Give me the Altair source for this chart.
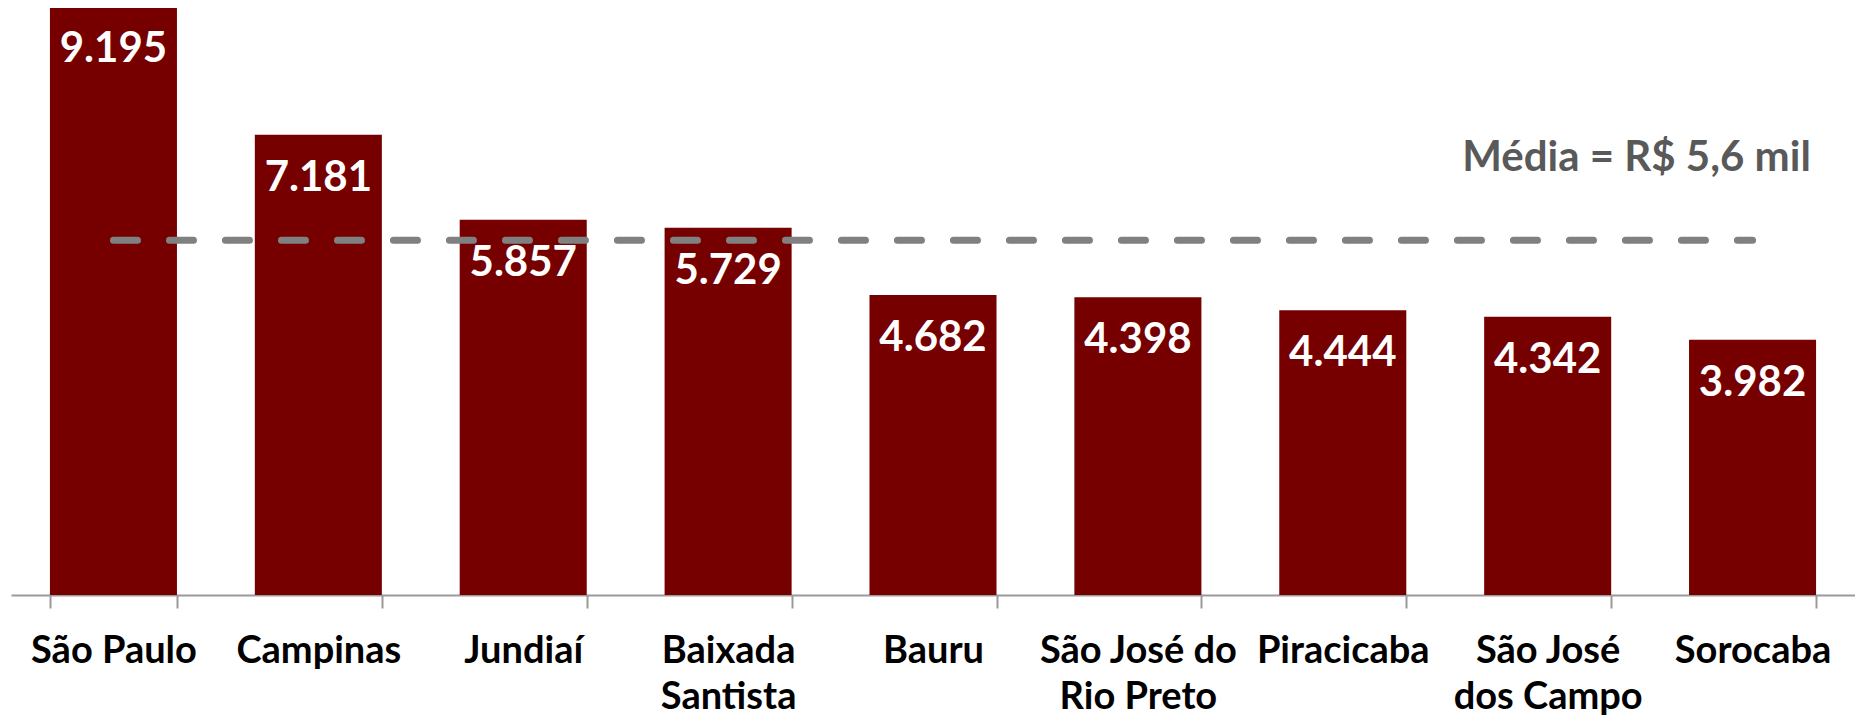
import altair as alt
import pandas as pd

# ---- data ----
categories = [
    "São Paulo", "Campinas", "Jundiaí", "Baixada\nSantista", "Bauru",
    "São José do\nRio Preto", "Piracicaba", "São José\ndos Campo", "Sorocaba",
]
# bar heights as drawn in the picture
bar_values = [9.195, 7.181, 5.857, 5.729, 4.682, 4.647, 4.444, 4.342, 3.982]
# printed value labels
value_labels = ["9.195", "7.181", "5.857", "5.729", "4.682", "4.398", "4.444", "4.342", "3.982"]
labeled_values = [9.195, 7.181, 5.857, 5.729, 4.682, 4.398, 4.444, 4.342, 3.982]
mean_value = sum(labeled_values) / len(labeled_values)
mean_text = "Média = R$ 5,6 mil"

FONT = "Lato"
BAR_COLOR = "#760000"

df = pd.DataFrame({"region": categories, "value": bar_values, "label": value_labels})
rule_df = pd.DataFrame({"region": [categories[0]], "region_end": [categories[-1]], "mean": [mean_value]})
note_df = pd.DataFrame({"region": [categories[-1]], "mean": [mean_value], "text": [mean_text]})

x_scale = alt.Scale(domain=categories, paddingInner=0.38, paddingOuter=0.19)
y_scale = alt.Scale(domain=[0, 9.16], nice=False, zero=True)

x_main = alt.X(
    "region:N", sort=categories, scale=x_scale,
    axis=alt.Axis(
        title=None, labelAngle=0, labelExpr="split(datum.label, '\\n')",
        labelFont=FONT, labelFontSize=38, labelFontWeight="bold", labelColor="black",
        labelBaseline="alphabetic", labelPadding=54, labelLineHeight=46,
        labelLimit=0, labelOverlap=False, tickBand="extent", tickSize=13,
        tickColor="#9a9a9a", tickWidth=2, domainColor="#9a9a9a", domainWidth=2,
        grid=False,
    ),
)
x_plain = alt.X("region:N", sort=categories, scale=x_scale)
y_enc = alt.Y("value:Q", scale=y_scale, axis=None)

bars = alt.Chart(df).mark_bar(color=BAR_COLOR).encode(x=x_main, y=y_enc)

values = alt.Chart(df).mark_text(
    baseline="alphabetic", dy=56, color="white", font=FONT,
    fontSize=42, fontWeight="bold",
).encode(x=x_plain, y=y_enc, text="label:N")

rule = alt.Chart(rule_df).mark_rule(
    color="#808080", strokeWidth=7, strokeDash=[24, 32], strokeCap="round",
).encode(
    x=alt.X("region:N", sort=categories, scale=x_scale, bandPosition=0.5),
    x2=alt.X2("region_end:N", bandPosition=0.5),
    y=alt.Y("mean:Q", scale=y_scale, axis=None),
)

note = alt.Chart(note_df).mark_text(
    align="center", baseline="alphabetic", dx=-116, dy=-69.5,
    color="#595959", font=FONT, fontSize=42, fontWeight="bold",
).encode(x=x_plain, y=alt.Y("mean:Q", scale=y_scale, axis=None), text="text:N")

chart = alt.layer(bars, values, rule, note).properties(
    width=1844, height=587,
    padding={"left": 3, "top": 0, "right": 0, "bottom": 122},
    autosize=alt.AutoSizeParams(type="none"),
).configure_view(stroke=None)

chart.save("out.html", embed_options={"renderer": "svg", "actions": False})
